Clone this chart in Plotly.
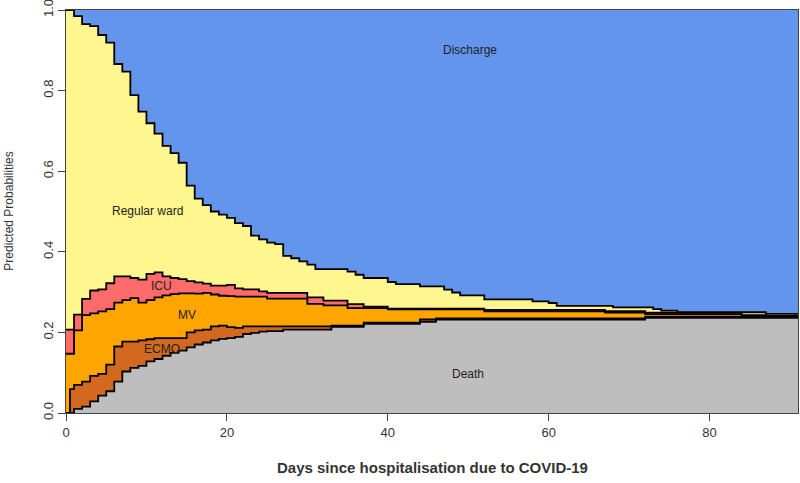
import plotly.graph_objects as go

# Time (days since hospitalisation)
days = [0, 0.5] + list(range(1, 92))

# Cumulative stacked predicted probabilities (upper boundary of each state)
death_top = ([0, 0, 0.010, 0.016, 0.029, 0.043, 0.054, 0.078, 0.103, 0.112, 0.117, 0.128, 0.134,
              0.142, 0.149, 0.155, 0.163, 0.170, 0.175, 0.180, 0.184, 0.186, 0.189, 0.196, 0.199,
              0.202, 0.203, 0.203]
             + [0.207] * 6 + [0.214] * 4 + [0.221] * 7 + [0.226] * 2 + [0.232] * 26 + [0.236] * 20)

ecmo_top = ([0, 0.059, 0.070, 0.078, 0.092, 0.097, 0.120, 0.165, 0.177, 0.177, 0.180, 0.183, 0.186,
             0.186, 0.186, 0.186, 0.200, 0.205, 0.207, 0.215, 0.217, 0.213, 0.211]
            + [0.215] * 11 + [0.217] * 4 + [0.224] * 7 + [0.232] * 2 + [0.235] * 26 + [0.239] * 20)

mv_top = ([0.147, 0.147, 0.205, 0.243, 0.247, 0.252, 0.258, 0.274, 0.280, 0.285, 0.274, 0.280, 0.287,
           0.292, 0.295, 0.297, 0.297, 0.296, 0.298, 0.294, 0.291, 0.290, 0.289, 0.289, 0.289, 0.289]
          + [0.284] * 5 + [0.271] * 2 + [0.267] * 3 + [0.260] * 5 + [0.257] * 12 + [0.252] * 15
          + [0.249] * 5 + [0.2455] * 12 + [0.243] * 3 + [0.241] * 5)

icu_top = ([0.207, 0.207, 0.244, 0.283, 0.304, 0.307, 0.322, 0.339, 0.339, 0.335, 0.331, 0.345, 0.349,
            0.339, 0.335, 0.332, 0.327, 0.324, 0.321, 0.316, 0.316, 0.318, 0.309, 0.307, 0.307, 0.302]
           + [0.298] * 5 + [0.287] * 2 + [0.279] * 3 + [0.270] * 2 + [0.264] * 3 + [0.259] * 12
           + [0.256] * 15 + [0.253] * 5 + [0.249] * 12 + [0.243] * 3 + [0.241] * 5)

ward_top = ([1.0, 1.0, 0.985, 0.965, 0.960, 0.938, 0.919, 0.866, 0.847, 0.789, 0.748, 0.719, 0.693,
             0.663, 0.645, 0.621, 0.564, 0.532, 0.516, 0.500, 0.492, 0.484, 0.471, 0.464, 0.440,
             0.431, 0.423, 0.419, 0.390, 0.384, 0.376, 0.368]
            + [0.357] * 4 + [0.351, 0.343] + [0.335] * 3 + [0.325] + [0.320] * 3 + [0.314] * 3
            + [0.306, 0.299] + [0.292] * 3 + [0.282] * 6 + [0.277] * 2 + [0.273] + [0.266] * 7
            + [0.262] * 5 + [0.258] + [0.254] * 2 + [0.250] * 11 + [0.246] * 5)

discharge_top = [1.0] * len(days)

states = ["Death", "ECMO", "MV", "ICU", "Regular ward", "Discharge"]
colors = ["#BEBEBE", "#D2691E", "#FFA500", "#FF6A6A", "#FFF68F", "#6495ED"]
bounds = [death_top, ecmo_top, mv_top, icu_top, ward_top, discharge_top]

# Label positions (day, probability)
label_x = [50, 11.9, 15.0, 11.9, 10.1, 50.2]
label_y = [0.098, 0.159, 0.244, 0.316, 0.501, 0.90]

x_ticks = [0, 20, 40, 60, 80]
y_ticks = [0.0, 0.2, 0.4, 0.6, 0.8, 1.0]

FONT = "Liberation Sans, Arial, sans-serif"

fig = go.Figure()
for i, (name, col, yb) in enumerate(zip(states, colors, bounds)):
    is_last = (i == len(states) - 1)
    fig.add_trace(go.Scatter(
        x=days, y=yb, name=name, mode="lines",
        line=dict(shape="hv", color="black", width=0 if is_last else 1.8),
        fill="tozeroy" if i == 0 else "tonexty",
        fillcolor=col, showlegend=False, hoverinfo="skip"))

for name, lx, ly in zip(states, label_x, label_y):
    fig.add_annotation(x=lx, y=ly, text=name, showarrow=False,
                       font=dict(family=FONT, size=12, color="#222"))

fig.add_annotation(xref="paper", yref="paper", x=-0.079, y=0.5, text="Predicted Probabilities",
                   textangle=-90, showarrow=False, xanchor="center", yanchor="middle",
                   font=dict(family=FONT, size=12, color="#333"))
fig.add_annotation(xref="paper", yref="paper", x=0.5, y=-0.134,
                   text="<b>Days since hospitalisation due to COVID-19</b>",
                   showarrow=False, xanchor="center", yanchor="middle",
                   font=dict(family=FONT, size=15, color="#333"))

fig.update_layout(
    width=800, height=483,
    margin=dict(l=66, r=2, t=10, b=70, autoexpand=False),
    paper_bgcolor="white", plot_bgcolor="white",
    font=dict(family=FONT, size=13, color="#333"),
)
fig.update_xaxes(range=[0, 91], tickvals=x_ticks, ticktext=[str(v) for v in x_ticks],
                 ticks="outside", ticklen=7, tickcolor="#444", showgrid=False, zeroline=False,
                 showline=True, linecolor="#444", linewidth=1, mirror=True, automargin=False)
fig.update_yaxes(range=[0, 1], tickvals=y_ticks, ticktext=[f"{v:.1f}" for v in y_ticks],
                 tickangle=-90, ticks="outside", ticklen=7, tickcolor="#444", showgrid=False,
                 zeroline=False, showline=True, linecolor="#444", linewidth=1, mirror=True,
                 automargin=False, ticklabeloverflow="allow")

fig.write_html("out.html", config={"displayModeBar": False},
               post_script="document.body.style.margin='0px';")
